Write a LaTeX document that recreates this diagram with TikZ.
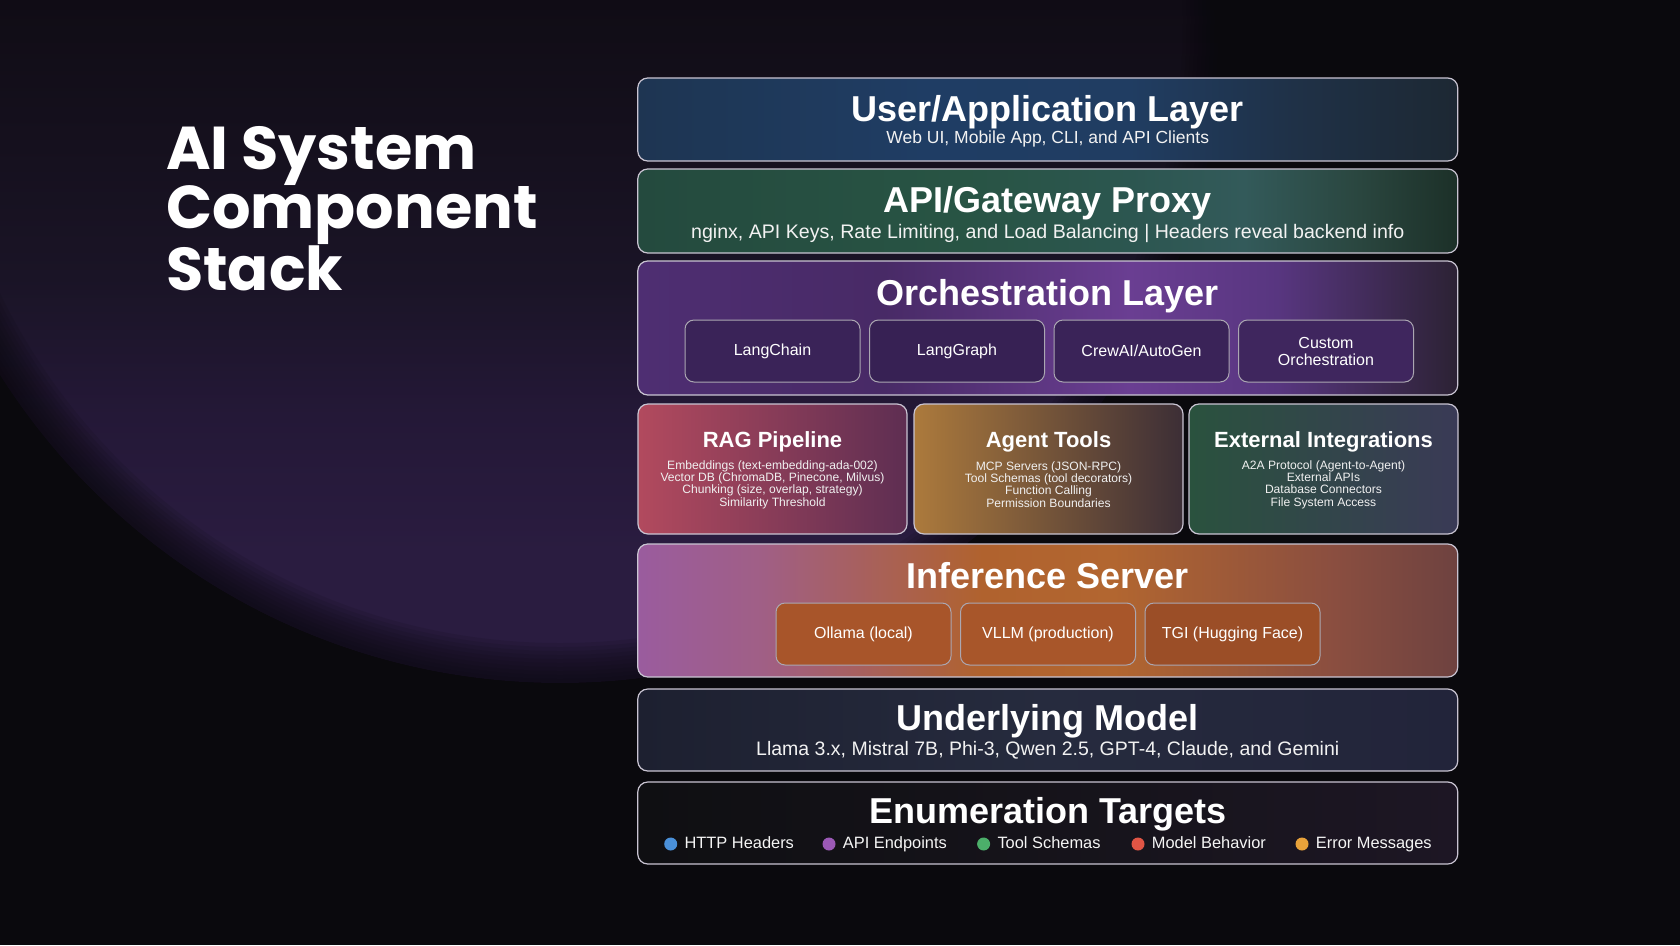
\documentclass[tikz,border=0pt]{standalone}
\usepackage{fontspec}
\setmainfont{Liberation Sans}
\newfontfamily\titlefont{Poppins}
\usetikzlibrary{positioning}

\definecolor{bgcol}{HTML}{0A090D}
\definecolor{glowT}{HTML}{100C15}
\definecolor{glowM}{HTML}{1A1426}
\definecolor{glowN}{HTML}{241837}
\definecolor{glowR}{HTML}{2A1C40}
\definecolor{edgecol}{HTML}{C9C4D2}
\definecolor{legBlue}{HTML}{4A90D9}
\definecolor{legPurple}{HTML}{9B59B6}
\definecolor{legGreen}{HTML}{4CAF6A}
\definecolor{legRed}{HTML}{E05545}
\definecolor{legOrange}{HTML}{E8A23A}
% layer colours
\definecolor{uA}{HTML}{1E3552}\definecolor{uB}{HTML}{1F3D64}\definecolor{uC}{HTML}{203D62}\definecolor{uD}{HTML}{1F3147}\definecolor{uE}{HTML}{1D2833}
\definecolor{gA}{HTML}{244A3E}\definecolor{gB}{HTML}{285444}\definecolor{gC}{HTML}{2C5650}\definecolor{gD}{HTML}{335A5A}\definecolor{gE}{HTML}{2A463F}\definecolor{gF}{HTML}{1C3028}
\definecolor{oA}{HTML}{4E2E72}\definecolor{oB}{HTML}{482A66}\definecolor{oC}{HTML}{6A3E92}\definecolor{oD}{HTML}{583680}\definecolor{oE}{HTML}{2C2234}
\definecolor{iA}{HTML}{9A5C9E}\definecolor{iB}{HTML}{A05F86}\definecolor{iC}{HTML}{B0622E}\definecolor{iD}{HTML}{B26630}\definecolor{iE}{HTML}{8A4E40}\definecolor{iF}{HTML}{6E4240}
\definecolor{mA}{HTML}{1D2030}\definecolor{mB}{HTML}{262B3E}\definecolor{mC}{HTML}{22243A}
\definecolor{eA}{HTML}{0F0F12}\definecolor{eB}{HTML}{17141C}\definecolor{eC}{HTML}{1D1624}
\definecolor{orchCell}{HTML}{3A2358}
\definecolor{inferCell}{HTML}{A8552A}

% visible part of a shading runs from 25bp to 75bp
\pgfdeclareverticalshading{glow}{100bp}{color(0bp)=(glowR); color(29.9bp)=(glowR); color(35.1bp)=(glowN); color(40.3bp)=(glowM); color(50.7bp)=(glowT); color(100bp)=(glowT)}
\pgfdeclarehorizontalshading{userShade}{100bp}{color(0bp)=(uA); color(25bp)=(uA); color(42.5bp)=(uB); color(55bp)=(uC); color(65bp)=(uD); color(75bp)=(uE); color(100bp)=(uE)}
\pgfdeclarehorizontalshading{gateShade}{100bp}{color(0bp)=(gA); color(25bp)=(gA); color(45bp)=(gB); color(55bp)=(gC); color(62bp)=(gD); color(69bp)=(gE); color(75bp)=(gF); color(100bp)=(gF)}
\pgfdeclarehorizontalshading{orchShade}{100bp}{color(0bp)=(oA); color(25bp)=(oA); color(40bp)=(oB); color(55bp)=(oC); color(64bp)=(oD); color(75bp)=(oE); color(100bp)=(oE)}
\pgfdeclarehorizontalshading{inferShade}{100bp}{color(0bp)=(iA); color(25bp)=(iA); color(32.5bp)=(iB); color(46bp)=(iC); color(54bp)=(iD); color(67.5bp)=(iE); color(75bp)=(iF); color(100bp)=(iF)}
\pgfdeclarehorizontalshading{modelShade}{100bp}{color(0bp)=(mA); color(25bp)=(mA); color(50bp)=(mB); color(75bp)=(mC); color(100bp)=(mC)}
\pgfdeclarehorizontalshading{enumShade}{100bp}{color(0bp)=(eA); color(25bp)=(eA); color(55bp)=(eB); color(75bp)=(eC); color(100bp)=(eC)}

\tikzset{
  layer/.style={draw=edgecol, line width=1.2pt, rounded corners=10pt, inner sep=0pt, minimum width=820pt},
  tile/.style={draw=edgecol, line width=1.2pt, rounded corners=10pt, inner sep=0pt, minimum width=269pt, minimum height=130pt},
  cell/.style={draw=edgecol!85!black, line width=1pt, rounded corners=9pt, inner sep=0pt,
    minimum width=175pt, minimum height=62pt, text=white, align=center, font=\fontsize{16}{17}\selectfont},
  head/.style={text=white, anchor=base, inner sep=0pt, font=\bfseries\fontsize{36}{40}\selectfont},
  subhead/.style={text=white!90!gray, anchor=base, inner sep=0pt, font=\fontsize{17.5}{20}\selectfont},
  tilehead/.style={text=white, anchor=base, inner sep=0pt, font=\bfseries\fontsize{22}{26}\selectfont},
  detail/.style={text=white!88!gray, inner sep=0pt, align=center, font=\fontsize{12.1}{12.3}\selectfont},
  dot/.style={circle, inner sep=0pt, minimum size=13pt},
  legend/.style={text=white!92!gray, inner sep=0pt, text height=12pt, text depth=3.5pt, font=\fontsize{16.4}{19}\selectfont}
}

\begin{document}
\begin{tikzpicture}[x=1pt, y=-1pt]
  \useasboundingbox (0,0) rectangle (1680,945);
  % background and glow
  \fill[bgcol] (0,0) rectangle (1680,945);
  \begin{scope}
    \clip (0,0) rectangle (1680,945);
    \shade[shading=glow] (560,20) circle (663pt);
    \foreach \w in {80,72,64,56,48,40,32,24,16,8}
      \draw[bgcol, opacity=0.11, line width=\w pt] (560,20) circle (663pt);
  \end{scope}

  \node (title) [anchor=north west, inner sep=0pt, align=left, text=white,
    font=\titlefont\bfseries\fontsize{60.5}{59.5}\selectfont] at (166,126) {AI System\\Component\\Stack};

  % layers
  \node (user) [layer, minimum height=83pt, shading=userShade] at (1047.75,119.5) {};
  \node (userT) [head] at (1047.75,121) {User/Application Layer};
  \node (userS) [subhead] at (1047.75,143.5) {Web UI, Mobile App, CLI, and API Clients};

  \node (gate) [layer, minimum height=84pt, shading=gateShade] at (1047.75,211) {};
  \node (gateT) [head] at (1047.75,212.5) {API/Gateway Proxy};
  \node (gateS) [subhead, font=\fontsize{19.6}{22}\selectfont] at (1047.75,238) {nginx, API Keys, Rate Limiting, and Load Balancing | Headers reveal backend info};

  \node (orch) [layer, minimum height=134pt, shading=orchShade] at (1047.75,328) {};
  \node (orchT) [head] at (1047.75,305.5) {Orchestration Layer};
  \node (lchain) [cell, fill=orchCell] at (772.5,351) {LangChain};
  \node (lgraph) [cell, fill=orchCell!95!black, right=8.5pt of lchain] {LangGraph};
  \node (crew) [cell, fill=orchCell, right=8.5pt of lgraph] {CrewAI/AutoGen};
  \node (custom) [cell, fill=orchCell!90!oC, right=8.5pt of crew] {Custom\\Orchestration};

  % three tiles
  \node (rag) [tile, left color={rgb,255:red,178;green,74;blue,94},
    middle color={rgb,255:red,152;green,68;blue,114}, right color={rgb,255:red,94;green,46;blue,82}] at (772.5,469) {};
  \node (ragT) [tilehead] at (772.5,447) {RAG Pipeline};
  \node (ragD) [detail] at (772.5,484.5) {Embeddings (text-embedding-ada-002)\\Vector DB (ChromaDB, Pinecone, Milvus)\\Chunking (size, overlap, strategy)\\Similarity Threshold};

  \node (tools) [tile, left color={rgb,255:red,172;green,122;blue,60},
    middle color={rgb,255:red,118;green,84;blue,48}, right color={rgb,255:red,60;green,46;blue,54}] at (1048.5,469) {};
  \node (toolsT) [tilehead] at (1048.5,447) {Agent Tools};
  \node (toolsD) [detail] at (1048.5,484.5) {MCP Servers (JSON-RPC)\\Tool Schemas (tool decorators)\\Function Calling\\Permission Boundaries};

  \node (ext) [tile, left color={rgb,255:red,42;green,82;blue,62},
    middle color={rgb,255:red,46;green,74;blue,70}, right color={rgb,255:red,58;green,58;blue,86}] at (1323.5,469) {};
  \node (extT) [tilehead] at (1323.5,447) {External Integrations};
  \node (extD) [detail] at (1323.5,484.5) {A2A Protocol (Agent-to-Agent)\\External APIs\\Database Connectors\\File System Access};

  \node (infer) [layer, minimum height=133pt, shading=inferShade] at (1047.75,610.5) {};
  \node (inferT) [head] at (1047.75,588) {Inference Server};
  \node (ollama) [cell, fill=inferCell] at (863.5,634) {Ollama (local)};
  \node (vllm) [cell, fill=inferCell!95!iD, right=8.5pt of ollama] {VLLM (production)};
  \node (tgi) [cell, fill=inferCell!92!black, right=8.5pt of vllm] {TGI (Hugging Face)};

  \node (model) [layer, minimum height=82pt, shading=modelShade] at (1047.75,730) {};
  \node (modelT) [head] at (1047.75,730) {Underlying Model};
  \node (modelS) [subhead, font=\fontsize{19.5}{22}\selectfont] at (1047.75,755.5) {Llama 3.x, Mistral 7B, Phi-3, Qwen 2.5, GPT-4, Claude, and Gemini};

  \node (enum) [layer, minimum height=82pt, shading=enumShade] at (1047.75,823) {};
  \node (enumT) [head] at (1047.75,823) {Enumeration Targets};

  % legend
  \node (dHttp) [dot, fill=legBlue] at (670.7,844) {};
  \node (lHttp) [legend, right=7pt of dHttp] {HTTP Headers};
  \node (dApi) [dot, fill=legPurple] at (829,844) {};
  \node (lApi) [legend, right=7pt of dApi] {API Endpoints};
  \node (dTool) [dot, fill=legGreen] at (983.6,844) {};
  \node (lTool) [legend, right=7pt of dTool] {Tool Schemas};
  \node (dModel) [dot, fill=legRed] at (1138,844) {};
  \node (lModel) [legend, right=7pt of dModel] {Model Behavior};
  \node (dErr) [dot, fill=legOrange] at (1302,844) {};
  \node (lErr) [legend, right=7pt of dErr] {Error Messages};
\end{tikzpicture}
\end{document}
